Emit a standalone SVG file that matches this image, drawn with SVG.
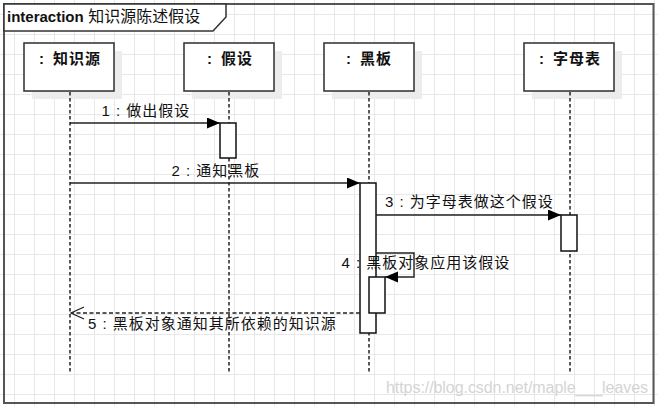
<svg xmlns="http://www.w3.org/2000/svg" width="658" height="406" viewBox="0 0 658 406">
  <defs>
    <pattern id="grid" x="14" y="14" width="20" height="20" patternUnits="userSpaceOnUse">
      <path d="M0.5,0 V20 M0,0.5 H20" stroke="#e8e8e8" stroke-width="1" fill="none"/>
    </pattern>
    <marker id="filled" markerWidth="14" markerHeight="12" refX="13" refY="5.5" orient="auto" markerUnits="userSpaceOnUse">
      <path d="M0,0 L13,5.5 L0,11 Z" fill="#000"/>
    </marker>
    <marker id="open" markerWidth="15" markerHeight="14" refX="13.5" refY="6.5" orient="auto" markerUnits="userSpaceOnUse">
      <path d="M0.5,0.5 L13.5,6.5 L0.5,12.5" fill="none" stroke="#222" stroke-width="1.3"/>
    </marker>
    <style>
      .head { fill: #fff; stroke: #3a3a3a; stroke-width: 1.6; }
      .shadow { fill: #ececec; }
      .life { stroke: #222; stroke-width: 1.5; stroke-dasharray: 3.5 2.5; fill: none; }
      .act { fill: #fff; stroke: #111; stroke-width: 1.5; }
      .msg { stroke: #222; stroke-width: 1.4; fill: none; }
      .ret { stroke: #222; stroke-width: 1.4; fill: none; stroke-dasharray: 4 2.5; }
      .hname { font-family: "Liberation Sans", "Noto Sans CJK SC", sans-serif; font-size: 15px; font-weight: bold; letter-spacing: 1px; fill: #111; text-anchor: middle; }
      .lbl { font-family: "Liberation Sans", "Noto Sans CJK SC", sans-serif; font-size: 15px; letter-spacing: 1px; fill: #111; }
    </style>
  </defs>

  <!-- background grid -->
  <rect width="658" height="406" fill="#fff"/>
  <rect width="658" height="406" fill="url(#grid)"/>

  <!-- interaction frame -->
  <g id="frame">
    <rect x="4" y="4" width="649.5" height="399" fill="none" stroke="#555" stroke-width="2"/>
    <polygon points="4,4 226,4 226,17 213,31 4,31" fill="#fff" stroke="#333" stroke-width="1.5"/>
    <text x="7" y="22" font-family="Liberation Sans, Noto Sans CJK SC, sans-serif" fill="#111"><tspan font-size="15" font-weight="bold">interaction</tspan><tspan font-size="16"> 知识源陈述假设</tspan></text>
  </g>

  <!-- lifeline: 知识源 -->
  <g id="source">
    <rect class="shadow" x="32" y="51" width="90" height="48"/>
    <rect class="head" x="24" y="43" width="90" height="48"/>
    <text class="hname" x="70" y="64">: <tspan dx="3">知识源</tspan></text>
    <line class="life" x1="70" y1="92" x2="70" y2="372"/>
  </g>

  <!-- lifeline: 假设 -->
  <g id="hypothesis">
    <rect class="shadow" x="192" y="51" width="90" height="48"/>
    <rect class="head" x="184" y="43" width="90" height="48"/>
    <text class="hname" x="230" y="64">: <tspan dx="3">假设</tspan></text>
    <line class="life" x1="229" y1="92" x2="229" y2="372"/>
    <rect class="act" x="220" y="123" width="16" height="35"/>
  </g>

  <!-- lifeline: 黑板 -->
  <g id="blackboard">
    <rect class="shadow" x="332" y="51" width="90" height="48"/>
    <rect class="head" x="324" y="43" width="90" height="48"/>
    <text class="hname" x="369" y="64">: <tspan dx="3">黑板</tspan></text>
    <line class="life" x1="369" y1="92" x2="369" y2="372"/>
    <rect class="act" x="360" y="183" width="16" height="150"/>
    <rect class="act" x="369" y="277" width="16" height="36" stroke="#444" stroke-width="1.8"/>
  </g>

  <!-- lifeline: 字母表 -->
  <g id="alphabet">
    <rect class="shadow" x="532" y="51" width="90" height="48"/>
    <rect class="head" x="524" y="43" width="90" height="48"/>
    <text class="hname" x="570" y="64">: <tspan dx="3">字母表</tspan></text>
    <line class="life" x1="570" y1="92" x2="570" y2="372"/>
    <rect class="act" x="561" y="215" width="16" height="36"/>
  </g>

  <!-- messages -->
  <g id="connectors">
    <line class="msg" x1="70" y1="123" x2="220" y2="123" marker-end="url(#filled)"/>
    <text class="lbl" x="101.5" y="116">1 : 做出假设</text>

    <line class="msg" x1="70" y1="183" x2="360" y2="183" marker-end="url(#filled)"/>
    <text class="lbl" x="171.5" y="176">2 : 通知黑板</text>

    <line class="msg" x1="376" y1="215" x2="561" y2="215" marker-end="url(#filled)"/>
    <text class="lbl" x="385" y="207">3 : 为字母表做这个假设</text>

    <path class="msg" d="M376,253 H414 V277 H385" marker-end="url(#filled)"/>
    <text class="lbl" x="341.5" y="268">4 : 黑板对象应用该假设</text>

    <line class="ret" x1="360" y1="313" x2="71" y2="313" marker-end="url(#open)"/>
    <text class="lbl" x="88" y="329">5 : 黑板对象通知其所依赖的知识源</text>
  </g>

  <text x="386" y="393" font-family="Liberation Sans, sans-serif" font-size="16" fill="#d4d4d4" textLength="262">https://blog.csdn.net/maple___leaves</text>
</svg>
